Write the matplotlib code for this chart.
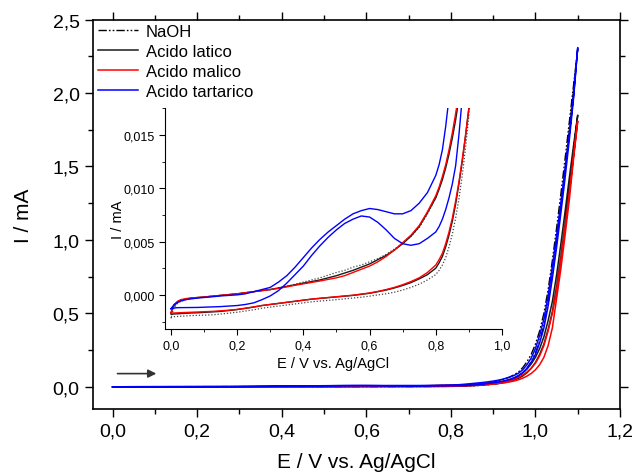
import numpy as np
import matplotlib
matplotlib.use('Agg')
import matplotlib.pyplot as plt
from matplotlib.ticker import MultipleLocator, FuncFormatter

plt.rcParams['font.family'] = ['Liberation Sans', 'DejaVu Sans']

# potential grid (V vs Ag/AgCl), shared by all branches
E = [0.00, 0.005, 0.01, 0.02, 0.03, 0.045, 0.06, 0.08, 0.10, 0.125, 0.15, 0.175,
     0.20, 0.225, 0.25, 0.275, 0.30, 0.325, 0.35, 0.375, 0.40, 0.425, 0.45, 0.475,
     0.50, 0.525, 0.55, 0.575, 0.60, 0.625, 0.65, 0.675, 0.70, 0.725, 0.75, 0.775,
     0.80, 0.81, 0.82, 0.83, 0.84, 0.85, 0.86, 0.87, 0.88, 0.89, 0.90, 0.91,
     0.92, 0.93, 0.94, 0.95, 0.96, 0.97, 0.98, 0.99, 1.00, 1.01, 1.02, 1.03,
     1.04, 1.05, 1.06, 1.07, 1.08, 1.09, 1.10]

# current (mA): forward (anodic) branch and reverse branch of each voltammogram
naoh_fwd = [-0.0022, -0.0016, -0.0012, -0.0008, -0.0006, -0.00045, -0.00035, -0.00028, -0.0002, -0.00012,
            -0.00005, 0.00002, 0.0001, 0.0002, 0.0003, 0.0004, 0.0005, 0.00065, 0.0008, 0.001,
            0.0012, 0.0014, 0.0016, 0.00185, 0.0021, 0.0023, 0.0026, 0.0028, 0.0031, 0.0034,
            0.0038, 0.0043, 0.0048, 0.0055, 0.0063, 0.0076,
            0.0091, 0.0100, 0.0110, 0.0121, 0.0134, 0.0149, 0.0166, 0.0188, 0.022, 0.026,
            0.031, 0.037, 0.045, 0.055, 0.067, 0.082, 0.10, 0.13, 0.17, 0.22,
            0.29, 0.38, 0.50, 0.66, 0.86, 1.08, 1.31, 1.55, 1.80, 2.05, 2.30]
naoh_rev = [-0.00205, -0.00205, -0.00205, -0.00203, -0.00201, -0.00198, -0.00195, -0.00193, -0.0019, -0.00187,
            -0.0018, -0.00172, -0.00163, -0.00152, -0.0014, -0.00125, -0.00115, -0.00105, -0.00095, -0.00085,
            -0.00075, -0.00065, -0.00058, -0.00051, -0.00045, -0.00038, -0.0003, -0.00022, -0.00012, 0.0,
            0.0001, 0.00025, 0.00045, 0.0007, 0.001, 0.0014,
            0.0019, 0.0023, 0.0028, 0.0035, 0.0045, 0.0057, 0.0072, 0.0090, 0.0112, 0.0138,
            0.0168, 0.021, 0.026, 0.033, 0.042, 0.054, 0.070, 0.092, 0.125, 0.17,
            0.23, 0.31, 0.42, 0.57, 0.76, 0.98, 1.22, 1.48, 1.75, 2.02, 2.30]

latico_fwd = [-0.0017, -0.0013, -0.0010, -0.0007, -0.0005, -0.0004, -0.0003, -0.00025, -0.0002, -0.00012,
              -0.00005, 0.00002, 0.0001, 0.0002, 0.0003, 0.0004, 0.0005, 0.00065, 0.0008, 0.00095,
              0.0011, 0.00125, 0.0014, 0.0016, 0.0018, 0.00205, 0.0023, 0.0026, 0.0029, 0.0033,
              0.0037, 0.0042, 0.0048, 0.0055, 0.0064, 0.0077,
              0.0091, 0.0099, 0.0108, 0.0119, 0.0132, 0.0147, 0.0164, 0.0184, 0.0205, 0.0230,
              0.026, 0.030, 0.035, 0.042, 0.050, 0.061, 0.075, 0.095, 0.12, 0.155,
              0.20, 0.26, 0.34, 0.45, 0.58, 0.76, 0.97, 1.19, 1.42, 1.64, 1.85]
latico_rev = [-0.0018, -0.0018, -0.0018, -0.00178, -0.00176, -0.00173, -0.0017, -0.00168, -0.00165, -0.0016,
              -0.00155, -0.00147, -0.00138, -0.00127, -0.00115, -0.001, -0.0009, -0.0008, -0.0007, -0.0006,
              -0.0005, -0.0004, -0.00033, -0.00026, -0.0002, -0.00012, -0.00005, 0.00005, 0.00015, 0.0003,
              0.00045, 0.00065, 0.00088, 0.00115, 0.0015, 0.0019,
              0.0025, 0.0030, 0.0036, 0.0045, 0.0056, 0.0069, 0.0085, 0.0104, 0.0125, 0.0149,
              0.0175, 0.021, 0.025, 0.030, 0.037, 0.046, 0.057, 0.073, 0.095, 0.125,
              0.165, 0.22, 0.29, 0.39, 0.51, 0.68, 0.88, 1.10, 1.35, 1.60, 1.85]

malico_fwd = [-0.0017, -0.0012, -0.0009, -0.0006, -0.00045, -0.00035, -0.0003, -0.00025, -0.0002, -0.00012,
              -0.00005, 0.00002, 0.0001, 0.0002, 0.0003, 0.0004, 0.0005, 0.0006, 0.00075, 0.0009,
              0.00103, 0.00116, 0.0013, 0.00145, 0.0016, 0.0018, 0.0021, 0.0024, 0.0027, 0.0031,
              0.0036, 0.0042, 0.0049, 0.0056, 0.0065, 0.0078,
              0.0093, 0.0101, 0.0111, 0.0122, 0.0136, 0.0152, 0.0170, 0.0190, 0.0210, 0.0232,
              0.0255, 0.028, 0.032, 0.037, 0.044, 0.052, 0.064, 0.080, 0.10, 0.125,
              0.16, 0.21, 0.28, 0.38, 0.50, 0.66, 0.86, 1.08, 1.32, 1.57, 1.81]
malico_rev = [-0.0017, -0.0017, -0.0017, -0.00169, -0.00167, -0.00165, -0.00163, -0.00161, -0.00158, -0.00155,
              -0.0015, -0.00144, -0.00136, -0.00125, -0.00113, -0.001, -0.0009, -0.0008, -0.0007, -0.0006,
              -0.0005, -0.0004, -0.00032, -0.00025, -0.00018, -0.0001, -0.00003, 0.00007, 0.00018, 0.00032,
              0.0005, 0.0007, 0.00095, 0.00125, 0.0016, 0.0021,
              0.0028, 0.0033, 0.0039, 0.0048, 0.0059, 0.0072, 0.0088, 0.0106, 0.0127, 0.0150,
              0.0175, 0.0205, 0.024, 0.028, 0.033, 0.039, 0.047, 0.058, 0.072, 0.090,
              0.115, 0.15, 0.20, 0.28, 0.40, 0.60, 0.80, 1.03, 1.27, 1.55, 1.81]

tartarico_fwd = [-0.0013, -0.0011, -0.0009, -0.0007, -0.00058, -0.00045, -0.00038, -0.0003, -0.00025, -0.00018,
                 -0.0001, -0.00005, 0.0, 0.0001, 0.0003, 0.0005, 0.0007, 0.0012, 0.0018, 0.0026,
                 0.0035, 0.0044, 0.0052, 0.0059, 0.0065, 0.0071, 0.0076, 0.0079, 0.0081, 0.0080,
                 0.0078, 0.0076, 0.0076, 0.0079, 0.0086, 0.0096,
                 0.0112, 0.0122, 0.0136, 0.0158, 0.0185, 0.021, 0.024, 0.027, 0.030, 0.034,
                 0.038, 0.043, 0.049, 0.057, 0.066, 0.077, 0.092, 0.115, 0.15, 0.195,
                 0.26, 0.35, 0.46, 0.62, 0.82, 1.03, 1.25, 1.48, 1.72, 1.98, 2.31]
tartarico_rev = [-0.0013, -0.00125, -0.00123, -0.0012, -0.0012, -0.0012, -0.00119, -0.00118, -0.00117, -0.00113,
                 -0.0011, -0.00105, -0.001, -0.0009, -0.00075, -0.00045, -0.0001, 0.0004, 0.0011, 0.0019,
                 0.0027, 0.0037, 0.0046, 0.0054, 0.0061, 0.0067, 0.0071, 0.0074, 0.0073, 0.0068,
                 0.0061, 0.0053, 0.0048, 0.00465, 0.0048, 0.0053,
                 0.0059, 0.0064, 0.0071, 0.0080, 0.0091, 0.0104, 0.0121, 0.0150, 0.0185, 0.022,
                 0.026, 0.030, 0.035, 0.041, 0.049, 0.060, 0.075, 0.095, 0.125, 0.165,
                 0.22, 0.30, 0.40, 0.55, 0.74, 0.95, 1.18, 1.42, 1.68, 1.96, 2.31]

labels = ['NaOH', 'Acido latico', 'Acido malico', 'Acido tartarico']
colors = ['black', '#1a1a1a', 'red', 'blue']


def comma(fmt):
    return FuncFormatter(lambda v, p: (fmt % v).replace('.', ','))


def loop(fwd, rev):
    # forward scan 0 -> 1.1 V, then back to 0 V
    x = np.concatenate([E, E[::-1]])
    y = np.concatenate([fwd, rev[::-1]])
    return x, y


series = [loop(naoh_fwd, naoh_rev), loop(latico_fwd, latico_rev),
          loop(malico_fwd, malico_rev), loop(tartarico_fwd, tartarico_rev)]

fig = plt.figure(figsize=(6.35, 4.77), dpi=100)
ax = fig.add_axes([0.146, 0.1405, 0.8304, 0.8161])

for i, (x, y) in enumerate(series):
    if i == 0:
        ax.plot(x, y, color=colors[i], lw=1.0, dashes=(6, 1.5, 1.2, 1.5, 1.2, 1.5), label=labels[i])
    else:
        ax.plot(x, y, color=colors[i], lw=1.1, label=labels[i])

ax.set_xlim(-0.047, 1.2)
ax.set_ylim(-0.152, 2.5)
ax.xaxis.set_major_locator(MultipleLocator(0.2))
ax.xaxis.set_minor_locator(MultipleLocator(0.1))
ax.yaxis.set_major_locator(MultipleLocator(0.5))
ax.yaxis.set_minor_locator(MultipleLocator(0.25))
ax.xaxis.set_major_formatter(comma('%.1f'))
ax.yaxis.set_major_formatter(comma('%.1f'))
ax.tick_params(which='both', direction='out', top=True, right=True, labelsize=14, width=1)
ax.tick_params(which='major', length=6)
ax.tick_params(which='minor', length=3.5)
for s in ax.spines.values():
    s.set_linewidth(1.2)
ax.set_xlabel('E / V vs. Ag/AgCl', fontsize=15, labelpad=9)
ax.set_ylabel('I / mA', fontsize=15, labelpad=14)

ax.legend(loc='upper left', bbox_to_anchor=(-0.008, 1.014), frameon=False, fontsize=12,
          handlelength=2.4, handletextpad=0.45, labelspacing=0.3, borderaxespad=0.2)

ax.annotate('', xy=(0.11, 0.089), xytext=(0.005, 0.089),
            arrowprops=dict(arrowstyle='-|>', color='#333333', lw=1.2, mutation_scale=12))

# inset, zoom on the low current region
axi = fig.add_axes([0.2598, 0.3082, 0.5307, 0.4627])
for i, (x, y) in enumerate(series):
    if i == 0:
        axi.plot(x, y, color='#444444', lw=0.9, ls=(0, (1, 1.5)))
    else:
        axi.plot(x, y, color=colors[i], lw=1.0)
axi.set_xlim(-0.018, 1.0)
axi.set_ylim(-0.0032, 0.0175)
axi.xaxis.set_major_locator(MultipleLocator(0.2))
axi.xaxis.set_minor_locator(MultipleLocator(0.1))
axi.yaxis.set_major_locator(MultipleLocator(0.005))
axi.yaxis.set_minor_locator(MultipleLocator(0.0025))
axi.xaxis.set_major_formatter(comma('%.1f'))
axi.yaxis.set_major_formatter(comma('%.3f'))
axi.spines['top'].set_visible(False)
axi.spines['right'].set_visible(False)
axi.tick_params(which='both', direction='out', labelsize=9)
axi.tick_params(which='major', length=4)
axi.tick_params(which='minor', length=2.5)
axi.set_xlabel('E / V vs. Ag/AgCl', fontsize=10.5, labelpad=3)
axi.set_ylabel('I / mA', fontsize=10.5, labelpad=-1)
axi.patch.set_alpha(0)

fig.savefig('out.png', dpi=100)
